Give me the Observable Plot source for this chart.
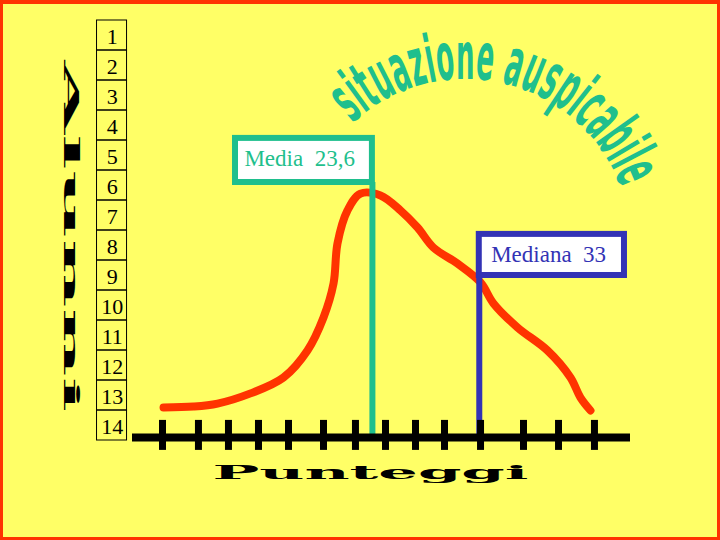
<!DOCTYPE html>
<html>
<head>
<meta charset="utf-8">
<script src="https://cdn.jsdelivr.net/npm/d3@7"></script>
<script src="https://cdn.jsdelivr.net/npm/@observablehq/plot@0.6"></script>
<style>
  html, body { margin: 0; padding: 0; background: #FFFF66; }
  #wrap { position: relative; width: 720px; height: 540px; overflow: hidden; background: #FFFF66; }
  #wrap svg { position: absolute; left: 0; top: 0; }
  #wrap svg text { white-space: pre; }
  #border { position: absolute; left: 0; top: 0; width: 720px; height: 540px; box-sizing: border-box;
            border: 3px solid #FF3300; border-top-width: 4px; pointer-events: none; }
</style>
</head>
<body>
<div id="wrap"><div id="border"></div></div>
<script>
// ---- data ----
const curveScore = [5.23, 7.87, 9.98, 12.88, 15.78, 17.89, 19.30, 20.18, 20.53, 21.41, 22.55, 24.31,
                    26.07, 27.57, 28.97, 31.08, 33.11, 34.25, 36.36, 39.00, 41.02, 41.90, 42.78];
const curveCount = [1.10, 1.13, 1.23, 1.57, 2.10, 3.00, 4.10, 5.23, 6.57, 7.67, 8.23, 8.17,
                    7.67, 7.10, 6.43, 5.90, 5.27, 4.57, 3.77, 3.00, 2.10, 1.43, 1.00];
const tickScores = [5.14, 8.30, 10.94, 13.58, 16.22, 19.30, 22.11, 24.75, 27.39, 29.94, 33.11, 36.89, 39.97, 43.13];
const rowLabels = [1, 2, 3, 4, 5, 6, 7, 8, 9, 10, 11, 12, 13, 14];
const meanValue = 23.6;
const medianValue = 33;
const meanLabel = "Media  23,6";
const medianLabel = "Mediana  33";
const titleText = "situazione auspicabile";
const xLabel = "Punteggi";
const yLabel = "Alunni";

// ---- styles ----
const green = "#1FBF8D";
const blue = "#3333B5";
const red = "#FF3300";

const curveData = curveScore.map((s, i) => ({score: s, count: curveCount[i]}));

const plot = Plot.plot({
  width: 720,
  height: 540,
  marginTop: 20,
  marginBottom: 100,
  marginLeft: 132,
  marginRight: 90,
  x: {domain: [2.5, 46.3], axis: null},
  y: {domain: [0, 14], axis: null},
  style: {background: "transparent", overflow: "visible"},
  marks: [
    // table of row labels
    Plot.rect(rowLabels, {x1: -0.62, x2: 2.02, y1: d => 14 - d, y2: d => 15 - d,
      fill: "none", stroke: "black", strokeWidth: 1}),
    Plot.text(rowLabels, {x: 0.72, y: d => 14.45 - d, text: d => String(d),
      fontFamily: "Liberation Serif", fontSize: 22, fill: "black"}),
    // distribution curve
    Plot.line(curveData, {x: "score", y: "count", stroke: red, strokeWidth: 8,
      curve: "catmull-rom", strokeLinecap: "round", strokeLinejoin: "round"}),
    // mean and median lines
    Plot.ruleX([meanValue], {y1: 0, y2: 8.6, stroke: green, strokeWidth: 6}),
    Plot.ruleX([medianValue], {y1: 0, y2: 5.5, stroke: blue, strokeWidth: 6}),
    // axis
    Plot.ruleY([0], {stroke: "black", strokeWidth: 8, dy: -3}),
    Plot.ruleX(tickScores, {y1: -0.33, y2: 0.67, stroke: "black", strokeWidth: 7}),
    // label boxes
    Plot.rect([meanValue], {x1: d => d - 12.04, x2: d => d, y1: 8.6, y2: 10.07,
      fill: "white", stroke: green, strokeWidth: 6}),
    Plot.text([meanLabel], {x: meanValue - 6.4, y: 9.4, text: d => d,
      fontFamily: "Liberation Serif", fontSize: 23, fill: green}),
    Plot.rect([medianValue], {x1: d => d, x2: d => d + 12.77, y1: 5.5, y2: 6.87,
      fill: "white", stroke: blue, strokeWidth: 6}),
    Plot.text([medianLabel], {x: medianValue + 6.1, y: 6.2, text: d => d,
      fontFamily: "Liberation Serif", fontSize: 23, fill: blue}),
    // axis titles
    Plot.text([xLabel], {x: 23.43, y: -1.08, text: d => d,
      fontFamily: "DejaVu Serif", fontWeight: "bold", fontSize: 19, fill: "black"}),
    Plot.text([yLabel], {x: -2.95, y: 6.8, text: d => d, rotate: 90,
      fontFamily: "DejaVu Serif", fontWeight: "bold", fontSize: 20, fill: "black"})
  ]
});

document.getElementById("wrap").insertBefore(plot, document.getElementById("border"));

const svg = d3.select(plot);
svg.selectAll("text").each(function () {
  const t = this.textContent;
  if (t === xLabel) {
    d3.select(this).attr("textLength", 316).attr("lengthAdjust", "spacingAndGlyphs");
  } else if (t === yLabel) {
    d3.select(this).attr("textLength", 352).attr("lengthAdjust", "spacingAndGlyphs");
  }
});

// arched title: each letter placed along an arc, baseline on the inner side
const cx = 465.3, cy = 244.4, r = 165.6;
const a0 = 227 * Math.PI / 180, a1 = 340 * Math.PI / 180;
const arcLen = (a1 - a0) * r;
const titleG = svg.append("g")
  .attr("font-family", "'Liberation Sans Narrow', 'DejaVu Sans Condensed', 'Liberation Sans', sans-serif")
  .attr("font-stretch", "condensed")
  .attr("font-weight", "bold")
  .attr("font-size", 66)
  .attr("fill", green)
  .attr("text-anchor", "middle");
const chars = Array.from(titleText);
const widths = chars.map(c => {
  const t = titleG.append("text").text(c === " " ? "\u00a0" : c);
  const w = t.node().getComputedTextLength();
  t.remove();
  return w;
});
const total = d3.sum(widths);
const k = arcLen / total;
let cum = 0;
chars.forEach((c, i) => {
  const adv = widths[i] * k;
  const s = cum + adv / 2;
  cum += adv;
  if (c === " ") return;
  const ang = a0 + s / r;
  const x = cx + r * Math.cos(ang);
  const y = cy + r * Math.sin(ang);
  const deg = ang * 180 / Math.PI + 90;
  titleG.append("text")
    .attr("transform", `translate(${x.toFixed(2)},${y.toFixed(2)}) rotate(${deg.toFixed(2)}) scale(${k.toFixed(3)},1)`)
    .text(c);
});
</script>
</body>
</html>
